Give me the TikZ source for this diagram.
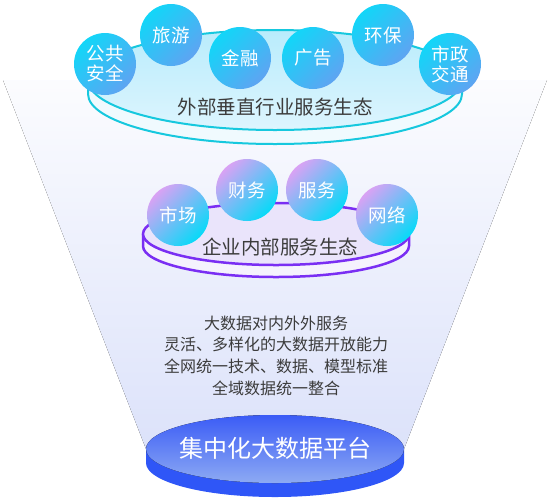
\documentclass[tikz,border=0pt]{standalone}
\usepackage{fontspec}
\setmainfont{Noto Sans CJK SC}

\definecolor{ballcyan}{HTML}{12D6F8}
\definecolor{ballblue}{HTML}{5EA4F2}
\definecolor{balllilac}{HTML}{D9A2F4}
\definecolor{ballaqua}{HTML}{06DAF8}
\definecolor{topring}{HTML}{16C8DE}
\definecolor{topfaceup}{HTML}{B9ECFC}
\definecolor{topfacedown}{HTML}{DDF5FE}
\definecolor{topside}{HTML}{F0FAFE}
\definecolor{violetring}{HTML}{7A2EF3}
\definecolor{violetface}{HTML}{EAE4FB}
\definecolor{violetside}{HTML}{F5F2FD}
\definecolor{baseup}{HTML}{3B5CF6}
\definecolor{basedown}{HTML}{8DAAF3}
\definecolor{baseside}{HTML}{2F56F7}
\definecolor{funnel}{HTML}{DCE2FA}
\definecolor{labelgray}{HTML}{3C3C3C}

\begin{document}
\begin{tikzpicture}[x=1pt, y=1pt,
  ball/.style={circle, minimum size=62pt, inner sep=0pt, text=white,
    align=center, font=\fontsize{18.5}{20}\selectfont},
  cyanball/.style={ball, top color=ballcyan, bottom color=ballblue, shading angle=45},
  violetball/.style={ball, top color=balllilac, bottom color=ballaqua, shading angle=45},
  disklabel/.style={text=labelgray, font=\fontsize{19.5}{22}\selectfont}
]

% ---------- Ramka ----------
\useasboundingbox (0,0) rectangle (551,-499);

% ---------- Lejek w tle ----------
\fill[top color=funnel!10, bottom color=funnel]
  (3,-80) -- (547,-80) -- (404,-449) -- (146,-449) -- cycle;

% ---------- Dysk gorny (cx=275, cy=80, rx=187, ry=50) ----------
\draw[topring, line width=2pt, fill=topside]
  (88,-80) -- (88,-94) arc[start angle=180, end angle=360, x radius=187, y radius=50] -- (462,-80);
\draw[topring, line width=2pt, top color=topfaceup, bottom color=topfacedown]
  (275,-80) ellipse[x radius=187, y radius=50];
\node[disklabel] (outer) at (275,-107) {外部垂直行业服务生态};

% kule zewnetrzne
\node[cyanball] (safety)  at (105,-64) {公共\\安全};
\node[cyanball] (travel)  at (171,-35) {旅游};
\node[cyanball] (finance) at (240,-58) {金融};
\node[cyanball] (advert)  at (313,-58) {广告};
\node[cyanball] (ecology) at (383,-35) {环保};
\node[cyanball] (transit) at (450,-64) {市政\\交通};

% ---------- Dysk srodkowy (cx=276, cy=234, rx=133, ry=31) ----------
\draw[violetring, line width=2.5pt, fill=violetside]
  (143,-234) -- (143,-246) arc[start angle=180, end angle=360, x radius=133, y radius=31] -- (409,-234);
\draw[violetring, line width=2.5pt, fill=violetface]
  (276,-234) ellipse[x radius=133, y radius=31];
\node[disklabel] (inner) at (280,-247) {企业内部服务生态};

% kule wewnetrzne
\node[violetball] (market)  at (178,-215) {市场};
\node[violetball] (account) at (247,-190) {财务};
\node[violetball] (service) at (317,-190) {服务};
\node[violetball] (network) at (387,-215) {网络};

% ---------- Opis ----------
\node[text=labelgray, align=center, font=\fontsize{16}{21.7}\selectfont] (notes) at (276,-355.5)
  {大数据对内外外服务\\灵活、多样化的大数据开放能力\\全网统一技术、数据、模型标准\\全域数据统一整合};

% ---------- Dysk dolny (cx=275, cy=449, rx=129, ry=34) ----------
\fill[baseside]
  (146,-449) -- (146,-463) arc[start angle=180, end angle=360, x radius=129, y radius=34] -- (404,-449) -- cycle;
\fill[top color=baseup, bottom color=basedown]
  (275,-449) ellipse[x radius=129, y radius=34];
\node[text=white, font=\fontsize{24}{28}\selectfont] (platform) at (275,-448) {集中化大数据平台};

\end{tikzpicture}
\end{document}
